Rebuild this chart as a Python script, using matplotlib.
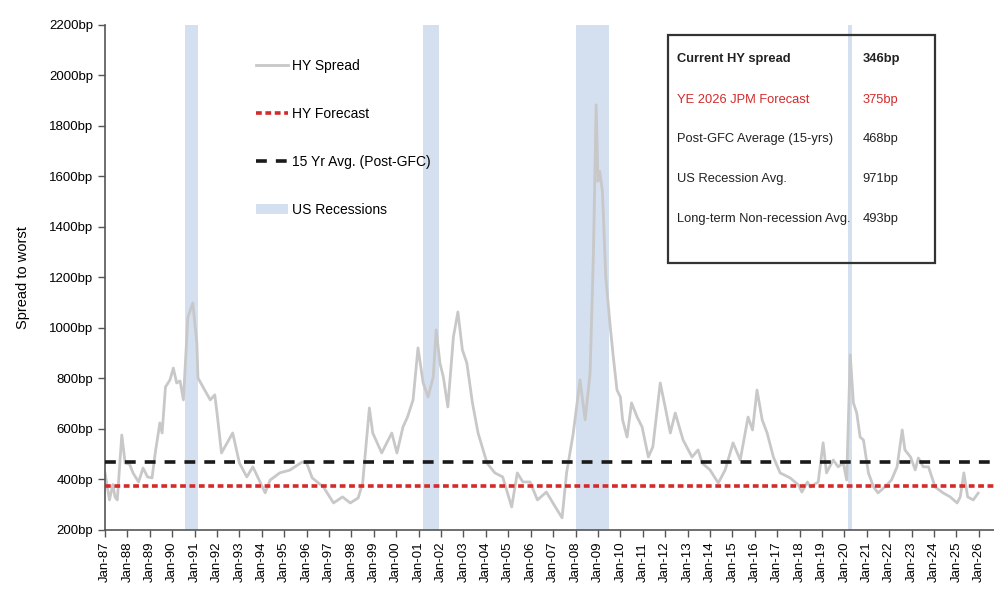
import matplotlib
matplotlib.use("Agg")
import matplotlib.pyplot as plt
from matplotlib.patches import Rectangle, Patch
from matplotlib.lines import Line2D

plt.rcParams["font.family"] = ["Liberation Sans", "DejaVu Sans"]

# DATA

years = [
    1987.0, 1987.2, 1987.35, 1987.45, 1987.55, 1987.75, 1987.9, 1988.1, 1988.25, 1988.5,
    1988.7, 1988.9, 1989.1, 1989.25, 1989.45, 1989.55, 1989.7, 1989.9, 1990.05, 1990.2,
    1990.35, 1990.5, 1990.7, 1990.92, 1991.1, 1991.15, 1991.45, 1991.7, 1991.9, 1992.0,
    1992.2, 1992.7, 1993.0, 1993.33, 1993.6, 1994.15, 1994.37, 1994.5, 1994.8, 1995.25,
    1995.8, 1996.0, 1996.25, 1996.75, 1997.2, 1997.6, 1997.95, 1998.3, 1998.5, 1998.8,
    1998.95, 1999.35, 1999.8, 2000.03, 2000.3, 2000.5, 2000.75, 2000.97, 2001.2, 2001.42,
    2001.65, 2001.78, 2001.95, 2002.1, 2002.3, 2002.55, 2002.75, 2002.95, 2003.15, 2003.4,
    2003.65, 2004.05, 2004.4, 2004.75, 2005.15, 2005.4, 2005.65, 2005.97, 2006.3, 2006.7,
    2007.1, 2007.4, 2007.6, 2007.9, 2008.2, 2008.43, 2008.65, 2008.8, 2008.92, 2009.0,
    2009.08, 2009.2, 2009.35, 2009.55, 2009.7, 2009.85, 2010.0, 2010.1, 2010.3, 2010.5,
    2010.75, 2010.97, 2011.25, 2011.45, 2011.78, 2012.0, 2012.23, 2012.45, 2012.8, 2013.2,
    2013.47, 2013.65, 2014.0, 2014.37, 2014.68, 2015.03, 2015.35, 2015.7, 2015.9, 2016.1,
    2016.33, 2016.55, 2016.83, 2017.13, 2017.58, 2017.95, 2018.1, 2018.35, 2018.47, 2018.83,
    2019.05, 2019.2, 2019.5, 2019.72, 2019.95, 2020.1, 2020.26, 2020.4, 2020.55, 2020.7,
    2020.85, 2021.07, 2021.3, 2021.5, 2021.8, 2022.1, 2022.35, 2022.58, 2022.7, 2022.95,
    2023.16, 2023.3, 2023.52, 2023.75, 2024.05, 2024.4, 2024.72, 2025.03, 2025.17, 2025.33,
    2025.5, 2025.75, 2025.97,
]
hy_spread = [
    426, 319, 380, 330, 319, 576, 465, 460, 426, 390,
    445, 410, 406, 509, 624, 584, 766, 794, 841, 782,
    790, 715, 1043, 1099, 940, 802, 754, 715, 735, 663,
    505, 584, 465, 410, 450, 347, 398, 406, 426, 437,
    469, 465, 406, 370, 307, 331, 307, 327, 386, 683,
    584, 505, 584, 505, 608, 647, 715, 921, 782, 727,
    806, 992, 860, 806, 687, 964, 1063, 913, 861, 703,
    584, 465, 426, 410, 291, 426, 390, 390, 319, 350,
    291, 248, 426, 584, 794, 636, 822, 1300, 1883, 1580,
    1620, 1540, 1200, 1004, 873, 754, 727, 636, 568, 703,
    647, 608, 489, 529, 782, 687, 584, 663, 556, 489,
    517, 465, 438, 386, 438, 545, 477, 647, 596, 754,
    636, 584, 489, 426, 406, 378, 350, 390, 370, 390,
    545, 426, 477, 450, 465, 398, 893, 703, 663, 568,
    556, 426, 370, 347, 370, 398, 450, 596, 517, 489,
    438, 485, 450, 450, 370, 347, 331, 307, 331, 426,
    331, 319, 346,
]

hy_forecast = 375
post_gfc_avg = 468

recession_start = [1990.55, 2001.2, 2008.0, 2020.17]
recession_end = [1991.15, 2001.92, 2009.5, 2020.33]

table_labels = ["Current HY spread", "YE 2026 JPM Forecast", "Post-GFC Average (15-yrs)",
                "US Recession Avg.", "Long-term Non-recession Avg."]
table_values = ["346bp", "375bp", "468bp", "971bp", "493bp"]

tick_years = list(range(1987, 2027))
tick_labels = [f"Jan-{y % 100:02d}" for y in tick_years]
ytick_vals = list(range(200, 2201, 200))

# PLOT

fig = plt.figure(figsize=(9.95, 6.05), dpi=100)
ax = fig.add_axes([0.1055, 0.124, 0.8945, 0.835])

rec_color = "#d4dff0"
for s, e in zip(recession_start, recession_end):
    ax.axvspan(s, e, color=rec_color, lw=0, zorder=1)

ax.plot(years, hy_spread, color="#c8c8c8", lw=2, zorder=2)
ax.axhline(post_gfc_avg, color="#1a1a1a", lw=2.6, ls=(0, (3, 2.5)), zorder=3)
ax.axhline(hy_forecast, color="#d42a2a", lw=2.6, ls=(0, (1.6, 1)), zorder=3)

ax.set_xlim(1987, 2026.72)
ax.set_ylim(200, 2200)
ax.set_xticks(tick_years)
ax.set_xticklabels(tick_labels, rotation=90, fontsize=9.5)
ax.set_yticks(ytick_vals)
ax.set_yticklabels([f"{v}bp" for v in ytick_vals], fontsize=9.5)
ax.tick_params(axis="both", direction="out", length=5, width=1, color="#555555")
ax.set_ylabel("Spread to worst", fontsize=10.5, labelpad=14)

for side in ["top", "right"]:
    ax.spines[side].set_visible(False)
for side in ["left", "bottom"]:
    ax.spines[side].set_color("#555555")
    ax.spines[side].set_linewidth(1.2)

# legend
handles = [
    Line2D([0], [0], color="#c8c8c8", lw=2),
    Line2D([0], [0], color="#d42a2a", lw=2.6, ls=(0, (1.6, 1))),
    Line2D([0], [0], color="#1a1a1a", lw=2.6, ls=(0, (3, 2.5))),
    Patch(facecolor=rec_color, edgecolor="none"),
]
ax.legend(handles, ["HY Spread", "HY Forecast", "15 Yr Avg. (Post-GFC)", "US Recessions"],
          loc="upper left", bbox_to_anchor=(0.156, 0.957), frameon=False,
          fontsize=10, labelspacing=2.45, handlelength=2.3, handletextpad=0.25)

# summary table box
box = Rectangle((0.633, 0.529), 0.30, 0.451, transform=ax.transAxes, fill=False,
                edgecolor="#333333", lw=1.6, zorder=5)
ax.add_patch(box)
row_y = [0.933, 0.852, 0.773, 0.694, 0.615]
for i, (lab, val) in enumerate(zip(table_labels, table_values)):
    color = "#d42a2a" if i == 1 else "#222222"
    weight = "bold" if i == 0 else "normal"
    ax.text(0.643, row_y[i], lab, transform=ax.transAxes, fontsize=9.3,
            color=color, fontweight=weight, va="center", zorder=6)
    ax.text(0.851, row_y[i], val, transform=ax.transAxes, fontsize=9.3,
            color=color, fontweight=weight, va="center", zorder=6)

fig.savefig("out.png", dpi=100)
